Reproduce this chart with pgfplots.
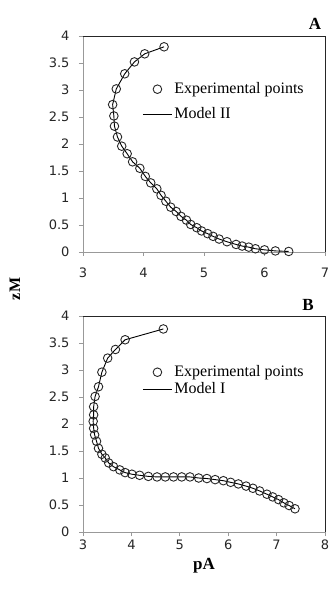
\documentclass[border=0pt]{standalone}
\usepackage{pgfplots}
\pgfplotsset{compat=1.18}
\usepackage{fontspec}
\setmainfont{Liberation Serif}
\newfontfamily\tickfont{DejaVu Sans}
\pgfplotstableread{
x y
4.34 3.80
4.02 3.67
3.85 3.52
3.69 3.30
3.55 3.02
3.49 2.73
3.51 2.52
3.52 2.33
3.57 2.13
3.64 1.96
3.73 1.82
3.82 1.67
3.94 1.55
4.03 1.40
4.12 1.28
4.22 1.17
4.29 1.05
4.37 0.94
4.45 0.83
4.54 0.75
4.62 0.66
4.71 0.59
4.78 0.51
4.88 0.45
4.96 0.39
5.06 0.34
5.15 0.29
5.25 0.24
5.38 0.19
5.53 0.14
5.63 0.11
5.74 0.09
5.85 0.06
6.00 0.04
6.18 0.02
6.40 0.01
}\dataA
\pgfplotstableread{
x y
4.66 3.76
3.87 3.56
3.67 3.38
3.51 3.22
3.39 2.96
3.32 2.69
3.25 2.51
3.22 2.32
3.22 2.17
3.21 2.05
3.22 1.92
3.24 1.80
3.28 1.68
3.32 1.55
3.39 1.44
3.46 1.37
3.53 1.28
3.63 1.21
3.76 1.15
3.87 1.10
4.01 1.07
4.17 1.05
4.35 1.03
4.53 1.02
4.70 1.02
4.87 1.02
5.04 1.02
5.21 1.02
5.39 1.00
5.56 0.99
5.73 0.97
5.90 0.95
6.05 0.92
6.21 0.89
6.37 0.85
6.51 0.81
6.65 0.76
6.80 0.70
6.92 0.65
7.04 0.60
7.15 0.54
7.26 0.49
7.38 0.43
}\dataB
\pgfplotsset{
  myaxis/.style={
    scale only axis, width=242pt, height=216pt,
    anchor=south west,
    ymin=0, ymax=4, ytick={0,0.5,...,4},
    axis lines*=left,
    axis line style={gray!80, line width=0.8pt},
    tick style={gray!80, line width=0.8pt},
    tick align=outside, major tick length=4pt,
    ticklabel style={font=\tickfont\fontsize{13}{13}\selectfont, text=black!85},
    /pgf/number format/assume math mode=true,
    yticklabel style={xshift=-6pt},
    clip=false,
    legend image code/.code={\draw[mark repeat=2,mark phase=2,##1] plot coordinates {(0pt,0pt) (14.5pt,0pt) (29pt,0pt)};},
    legend cell align=left,
    legend style={draw=none, fill=none, inner sep=0pt, font=\fontsize{16}{16}\selectfont,
      nodes={inner sep=0pt, text height=11pt, text depth=3pt}, column sep=2pt},
  },
  mk/.style={only marks, mark=o, mark size=4.3pt, mark options={line width=0.9pt, black!85}},
  ln/.style={black, line width=0.9pt, no marks},
}
\begin{document}
\begin{tikzpicture}
\path[use as bounding box] (0,0) rectangle (331pt,590pt);
\begin{axis}[myaxis, at={(83pt,338pt)}, xmin=3, xmax=7, xtick={3,4,5,6,7},
  xticklabel style={yshift=-8pt},
  legend style={at={(axis description cs:0.245,0.787)}, anchor=north west, row sep=11pt}]
\draw[black!85, line width=0.8pt] (rel axis cs:0,1) -- (rel axis cs:1,1) -- (rel axis cs:1,0);
\addplot[ln, forget plot] table[x=x,y=y] {\dataA};
\addplot[mk, forget plot] table[x=x,y=y] {\dataA};
\addlegendimage{mk}
\addlegendentry{Experimental points}
\addlegendimage{ln}
\addlegendentry{Model II}
\end{axis}
\begin{axis}[myaxis, at={(83pt,58pt)}, xmin=3, xmax=8, xtick={3,4,5,6,7,8},
  xlabel={\fontsize{17}{17}\selectfont\bfseries pA}, xlabel style={yshift=-2pt},
  legend style={at={(axis description cs:0.245,0.773)}, anchor=north west, row sep=3pt}]
\draw[black!85, line width=0.8pt] (rel axis cs:0,1) -- (rel axis cs:1,1) -- (rel axis cs:1,0);
\addplot[ln, forget plot] table[x=x,y=y] {\dataB};
\addplot[mk, forget plot] table[x=x,y=y] {\dataB};
\addlegendimage{mk}
\addlegendentry{Experimental points}
\addlegendimage{ln}
\addlegendentry{Model I}
\end{axis}
\node[rotate=90, font=\fontsize{16}{16}\selectfont\bfseries] at (15pt,301pt) {zM};
\node[font=\fontsize{17}{17}\selectfont\bfseries] at (315pt,566pt) {A};
\node[font=\fontsize{17}{17}\selectfont\bfseries] at (308pt,285pt) {B};
\end{tikzpicture}
\end{document}
